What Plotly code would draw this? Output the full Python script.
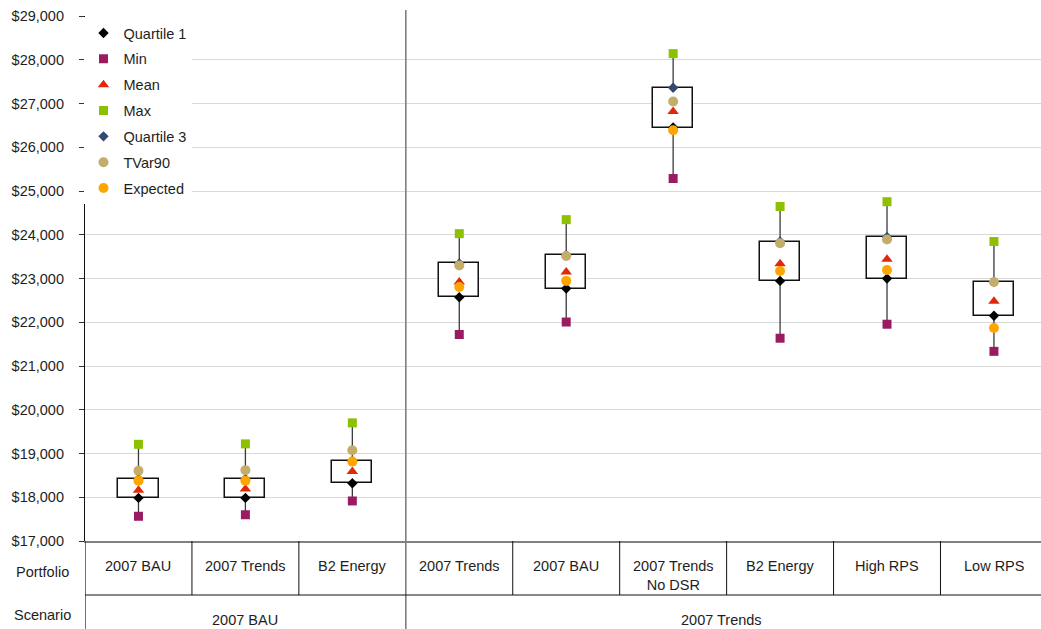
import plotly.graph_objects as go

# ---------------- data ----------------
portfolios = ["2007 BAU", "2007 Trends", "B2 Energy", "2007 Trends", "2007 BAU",
              "2007 Trends<br>No DSR", "B2 Energy", "High RPS", "Low RPS"]
scenarios = ["2007 BAU", "2007 Trends"]
scenario_sizes = [3, 6]

quartile1 = [17985, 17985, 18320, 22570, 22770, 26450, 22945, 23000, 22150]
minimum   = [17565, 17600, 17915, 21720, 22005, 25285, 21635, 21955, 21335]
mean      = [18160, 18190, 18590, 22920, 23150, 26820, 23340, 23440, 22480]
maximum   = [19210, 19220, 19700, 24025, 24345, 28140, 24645, 24755, 23845]
quartile3 = [18420, 18420, 18830, 23345, 23535, 27360, 23845, 23950, 22920]
tvar90    = [18605, 18620, 19075, 23300, 23515, 27045, 23805, 23890, 22920]
expected  = [18380, 18380, 18815, 22805, 22945, 26390, 23170, 23195, 21870]

y_ticks = list(range(17000, 29001, 1000))
y_tick_labels = ["$17,000", "$18,000", "$19,000", "$20,000", "$21,000", "$22,000",
                 "$23,000", "$24,000", "$25,000", "$26,000", "$27,000", "$28,000",
                 "$29,000"]

# ---------------- figure ----------------
FONT = "Liberation Sans, Arial, sans-serif"
FS = 14.5
TXT = "#1e1e1e"

x = list(range(len(portfolios)))
fig = go.Figure()

# boxes (Q1..Q3)
fig.add_trace(go.Bar(
    x=x, base=quartile1, y=[b - a for a, b in zip(quartile1, quartile3)],
    width=0.375, marker=dict(color="white", line=dict(color="#111111", width=1.5)),
    showlegend=False, hoverinfo="skip"))

# whiskers (min -> Q1 and Q3 -> max)
wx, wy = [], []
for i in x:
    wx += [i, i, None, i, i, None]
    wy += [minimum[i], quartile1[i], None, quartile3[i], maximum[i], None]
fig.add_trace(go.Scatter(x=wx, y=wy, mode="lines",
                         line=dict(color="#3a3a3a", width=1.3),
                         showlegend=False, hoverinfo="skip"))

series = [
    ("Quartile 1", quartile1, "diamond", "#000000", 8),
    ("Min", minimum, "square", "#9B1B63", 9),
    ("Mean", mean, "triangle-up", "#E0280C", 10),
    ("Max", maximum, "square", "#8CC000", 9),
    ("Quartile 3", quartile3, "diamond", "#34496F", 8),
    ("TVar90", tvar90, "circle", "#C4AD6A", 10),
    ("Expected", expected, "circle", "#FFA500", 10),
]
for k, (name, vals, sym, col, sz) in enumerate(series):
    fig.add_trace(go.Scatter(
        x=x, y=vals, mode="markers", name=name, legendgroup=f"g{k}",
        marker=dict(symbol=sym, color=col, size=sz, line=dict(width=0))))

# ---------------- layout geometry ----------------
W, H = 1041, 629
ML, MT, MB = 85, 16, 88
plot_h = H - MT - MB
plot_w = W - ML
def py(p):  # pixel y -> paper y
    return (H - MB - p) / plot_h
def px(p):  # pixel x -> paper x
    return (p - ML) / plot_w

shapes = []
# separator between scenarios
shapes.append(dict(type="line", xref="x", yref="paper", x0=2.5, x1=2.5,
                   y0=py(10), y1=py(H), line=dict(color="#7f7f7f", width=1.6)))
# left border of table
shapes.append(dict(type="line", xref="x", yref="paper", x0=-0.5, x1=-0.5,
                   y0=0, y1=py(H), line=dict(color="#111111", width=1.2)))
# portfolio row verticals
for b in [0.5, 1.5, 3.5, 4.5, 5.5, 6.5, 7.5]:
    shapes.append(dict(type="line", xref="x", yref="paper", x0=b, x1=b,
                       y0=0, y1=py(595), line=dict(color="#111111", width=1)))
# horizontal row line
shapes.append(dict(type="line", xref="x", yref="paper", x0=-0.5, x1=8.6,
                   y0=py(595), y1=py(595), line=dict(color="#111111", width=1)))

annotations = []
for i, p in enumerate(portfolios):
    annotations.append(dict(x=i, y=py(556), xref="x", yref="paper", text=p,
                            showarrow=False, xanchor="center", yanchor="top",
                            font=dict(family=FONT, size=FS, color=TXT)))
start = -0.5
for s, n in zip(scenarios, scenario_sizes):
    cx = start + n / 2 - (0.05 if n > 3 else 0)
    annotations.append(dict(x=cx, y=py(620), xref="x", yref="paper", text=s,
                            showarrow=False, xanchor="center", yanchor="middle",
                            font=dict(family=FONT, size=FS, color=TXT)))
    start += n
annotations.append(dict(x=px(42), y=py(572), xref="paper", yref="paper",
                        text="Portfolio", showarrow=False, xanchor="center",
                        yanchor="middle", font=dict(family=FONT, size=FS, color=TXT)))
annotations.append(dict(x=px(42), y=py(615), xref="paper", yref="paper",
                        text="Scenario", showarrow=False, xanchor="center",
                        yanchor="middle", font=dict(family=FONT, size=FS, color=TXT)))

fig.update_layout(
    width=W, height=H,
    margin=dict(l=ML, r=0, t=MT, b=MB, pad=0),
    paper_bgcolor="white", plot_bgcolor="white",
    font=dict(family=FONT, size=FS, color=TXT),
    showlegend=True,
    legend=dict(x=px(83.5), y=py(17), xanchor="left", yanchor="top",
                bgcolor="white", borderwidth=0, tracegroupgap=4,
                font=dict(family=FONT, size=FS, color=TXT)),
    xaxis=dict(range=[-0.5, 8.44], showgrid=False, zeroline=False,
               showticklabels=False, ticks="", showline=True,
               linecolor="#808080", linewidth=1.5, fixedrange=True),
    yaxis=dict(range=[17000, 29000], tickmode="array", tickvals=y_ticks,
               ticktext=y_tick_labels,
               showgrid=True, gridcolor="#d9d9d9", gridwidth=1,
               zeroline=False, showline=True, linecolor="#111111", linewidth=1.2,
               ticks="outside", ticklen=5, tickcolor="#333333",
               ticklabelstandoff=12, fixedrange=True),
    shapes=shapes, annotations=annotations,
    bargap=0,
)

fig.write_html("out.html", include_plotlyjs=True, full_html=True,
               config={"displayModeBar": False},
               post_script="document.body.style.margin='0px';document.body.style.overflow='hidden';")
